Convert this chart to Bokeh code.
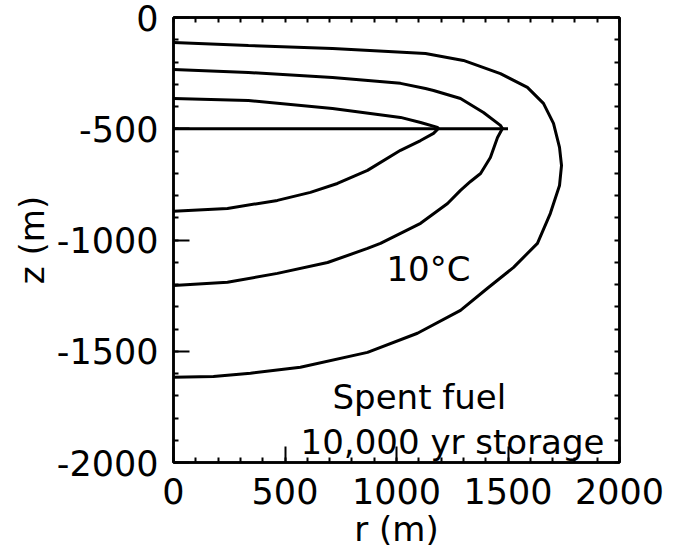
from bokeh.plotting import figure
from bokeh.models import Range1d, FixedTicker, LinearAxis
from bokeh.core.properties import value
from bokeh.embed import file_html
from bokeh.resources import INLINE

# ---- data (r in m, z in m) ----
outer_r = [0, 336, 713, 1130, 1300, 1466, 1587, 1659, 1704, 1731, 1740, 1731,
           1690, 1632, 1525, 1408, 1287, 1094, 870, 569, 345, 179, 0]
outer_z = [-112, -126, -139, -162, -193, -252, -314, -386, -476, -584, -665, -755,
           -880, -1015, -1123, -1217, -1316, -1419, -1505, -1572, -1599, -1613, -1617]

middle_r = [0, 336, 713, 1018, 1130, 1166, 1287, 1390, 1466, 1475,
            1453, 1421, 1377, 1332, 1287, 1229, 1108, 928, 870, 691, 466, 242, 0]
middle_z = [-234, -247, -270, -296, -319, -328, -364, -427, -485, -499,
            -539, -629, -701, -737, -777, -836, -925, -1015, -1038, -1101, -1150, -1190, -1204]

inner_r = [0, 336, 713, 1018, 1108, 1184, 1188,
           1166, 1108, 1018, 870, 735, 614, 466, 242, 0]
inner_z = [-364, -373, -409, -449, -472, -494, -499,
           -521, -553, -597, -687, -746, -786, -822, -858, -871]

repo_r = [0, 1500]
repo_z = [-500, -500]

x_ticks = [0, 500, 1000, 1500, 2000]
y_ticks = [-2000, -1500, -1000, -500, 0]
x_tick_labels = ["0", "500", "1000", "1500", "2000"]
y_tick_labels = ["-2000", "-1500", "-1000", "-500", "0"]
x_minor = list(range(0, 2001, 100))
y_minor = list(range(-2000, 1, 100))

label_texts = ["10°C", "Spent fuel", "10,000 yr storage"]
label_r = [1143, 713, 570]
label_z = [-1132, -1707, -1909]
label_align = ["center", "left", "left"]

FONT = "DejaVu Sans"

p = figure(width=673, height=555, output_backend="svg", toolbar_location=None,
           x_range=Range1d(0, 2000), y_range=Range1d(-2000, 0),
           min_border_left=173, min_border_right=54, min_border_top=17,
           min_border_bottom=93)
p.grid.visible = False
p.outline_line_color = "black"
p.outline_line_width = 2.5
p.background_fill_color = "white"
p.border_fill_color = "white"

p.xaxis.ticker = FixedTicker(ticks=x_ticks, minor_ticks=x_minor)
p.yaxis.ticker = FixedTicker(ticks=y_ticks, minor_ticks=y_minor)
p.xaxis.major_label_overrides = dict(zip(x_ticks, x_tick_labels))
p.yaxis.major_label_overrides = dict(zip(y_ticks, y_tick_labels))

for ax in (p.xaxis, p.yaxis):
    ax.axis_line_color = "black"
    ax.axis_line_width = 2.5
    ax.major_tick_in = 16
    ax.major_tick_out = 0
    ax.minor_tick_in = 5
    ax.minor_tick_out = 0
    ax.major_tick_line_width = 2
    ax.minor_tick_line_width = 2
    ax.major_label_text_font = FONT
    ax.major_label_text_font_size = "35px"
    ax.major_label_text_color = "black"
    ax.major_label_standoff = 15
    ax.axis_label_text_font = FONT
    ax.axis_label_text_font_size = "34px"
    ax.axis_label_text_font_style = "normal"
    ax.axis_label_text_color = "black"
    ax.axis_label_standoff = 2

p.xaxis.axis_label = "r (m)"
p.yaxis.axis_label = "z (m)"

# frame ticks on the top and right edges (minor ticks only, no labels)
for loc, tk in (("right", FixedTicker(ticks=[], minor_ticks=y_minor)),
                ("above", FixedTicker(ticks=[], minor_ticks=x_minor))):
    ax = LinearAxis(ticker=tk)
    ax.axis_line_color = "black"
    ax.axis_line_width = 2.5
    ax.major_tick_in = 5
    ax.major_tick_out = 0
    ax.minor_tick_in = 5
    ax.minor_tick_out = 0
    ax.major_tick_line_width = 2
    ax.minor_tick_line_width = 2
    ax.major_label_standoff = 0
    p.add_layout(ax, loc)

for rr, zz in ((outer_r, outer_z), (middle_r, middle_z), (inner_r, inner_z), (repo_r, repo_z)):
    p.line(rr, zz, line_color="black", line_width=3)

for t, x, y, a in zip(label_texts, label_r, label_z, label_align):
    p.text(x=[x], y=[y], text=[t], text_font=value(FONT), text_font_size="34px",
           text_color="black", text_align=a, text_baseline="alphabetic")

open("out.html", "w").write(file_html(p, INLINE))
